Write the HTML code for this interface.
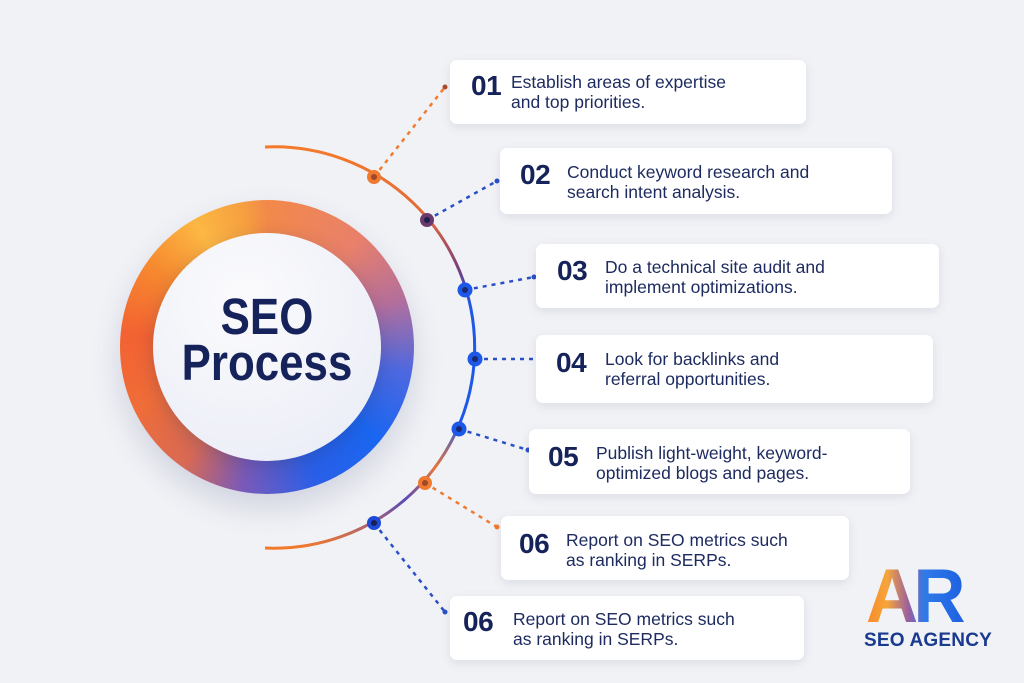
<!DOCTYPE html>
<html><head><meta charset="utf-8"><style>
body{margin:0;width:1024px;height:683px;overflow:hidden;background:#f1f2f6;font-family:"Liberation Sans",sans-serif;position:relative}
.ring{position:absolute;left:120px;top:200px;width:294px;height:294px;border-radius:50%;
background:conic-gradient(from 0deg,#f2894a 0deg,#e9806a 40deg,#b56f9a 70deg,#4e68e0 100deg,#1a66f0 130deg,#2a5fe8 160deg,#7a5ab8 190deg,#d86a55 215deg,#ef6d38 245deg,#f36232 275deg,#f6892f 305deg,#fcb743 330deg,#f6a040 350deg,#f2894a 360deg);
box-shadow:0 14px 30px rgba(60,70,120,.18)}
.inner{position:absolute;left:153px;top:233px;width:228px;height:228px;border-radius:50%;
background:radial-gradient(circle at 40% 30%,#fbfbfd,#eceef7 80%,#e3e6f3);box-shadow:0 6px 18px rgba(40,50,100,.25)}
.title{position:absolute;left:153px;top:294px;width:228px;text-align:center;color:#16235a;font-weight:bold;font-size:51px;line-height:46px;transform:scaleX(0.86)}
.card{position:absolute;background:#fff;border-radius:7px;box-shadow:0 3px 10px rgba(60,70,110,.12)}
.num{position:absolute;font-weight:bold;font-size:28px;color:#16235a;letter-spacing:-0.5px}
.txt{position:absolute;font-size:17.5px;line-height:19.5px;color:#1e2b60}
.logo{position:absolute;left:866px;top:558px;padding-right:12px;font-weight:bold;font-size:76px;letter-spacing:-5px;transform:scaleX(0.95);transform-origin:left;
background:linear-gradient(90deg,#f98a2a 0%,#f5a53a 20%,#9a5fa0 40%,#2f7ae8 55%,#1b5be0 100%);-webkit-background-clip:text;background-clip:text;color:transparent;line-height:78px}
.agency{position:absolute;left:864px;top:630px;font-weight:bold;font-size:19px;color:#1a3a90;letter-spacing:.2px}
</style></head><body>
<svg width="1024" height="683" style="position:absolute;left:0;top:0">
<defs><linearGradient id="ag" x1="0" y1="147" x2="0" y2="548" gradientUnits="userSpaceOnUse">
<stop offset="0" stop-color="#f47a2a"/><stop offset="0.18" stop-color="#e2683a"/><stop offset="0.3" stop-color="#7a3f7a"/><stop offset="0.4" stop-color="#1d58e8"/><stop offset="0.68" stop-color="#1d58e8"/><stop offset="0.8" stop-color="#e7743a"/><stop offset="0.88" stop-color="#5a4ab8"/><stop offset="1" stop-color="#f47a2a"/></linearGradient></defs>
<path d="M265 147 A200.7 200.7 0 1 1 265 548" fill="none" stroke="url(#ag)" stroke-width="3"/>
<g stroke-width="2.5" stroke-dasharray="4 5" fill="none">
<line x1="374" y1="177" x2="445" y2="87" stroke="#f07a30"/>
<line x1="427" y1="220" x2="497" y2="181" stroke="#2a4fc8"/>
<line x1="465" y1="290" x2="534" y2="277" stroke="#2a4fc8"/>
<line x1="475" y1="359" x2="534" y2="359" stroke="#2a4fc8"/>
<line x1="459" y1="429" x2="528" y2="450" stroke="#2a4fc8"/>
<line x1="425" y1="483" x2="497" y2="527" stroke="#f07a30"/>
<line x1="374" y1="523" x2="445" y2="612" stroke="#2a4fc8"/>
</g>
<g>
<circle cx="374" cy="177" r="7" fill="#f07a30"/><circle cx="374" cy="177" r="3" fill="#a0482a"/>
<circle cx="427" cy="220" r="7" fill="#6a3a6a"/><circle cx="427" cy="220" r="3" fill="#1a2050"/>
<circle cx="465" cy="290" r="7.5" fill="#1d58e8"/><circle cx="465" cy="290" r="3" fill="#1a2a70"/>
<circle cx="475" cy="359" r="7.5" fill="#1d58e8"/><circle cx="475" cy="359" r="3" fill="#1a2a70"/>
<circle cx="459" cy="429" r="7.5" fill="#1d58e8"/><circle cx="459" cy="429" r="3" fill="#1a2a70"/>
<circle cx="425" cy="483" r="7" fill="#f07a30"/><circle cx="425" cy="483" r="3" fill="#a0482a"/>
<circle cx="374" cy="523" r="7" fill="#1d4ad8"/><circle cx="374" cy="523" r="3" fill="#1a2050"/>
<circle cx="445" cy="87" r="2.5" fill="#b04a2a"/><circle cx="497" cy="181" r="2.5" fill="#2a4fc8"/>
<circle cx="534" cy="277" r="2.5" fill="#2a4fc8"/><circle cx="528" cy="450" r="2.5" fill="#2a4fc8"/>
<circle cx="497" cy="527" r="2.5" fill="#f07a30"/><circle cx="445" cy="612" r="2.5" fill="#2a4fc8"/>
</g></svg>
<div class="ring"></div><div class="inner"></div>
<div class="title">SEO<br>Process</div>

<div class="card" style="left:450px;top:60px;width:356px;height:64px"></div>
<div class="num" style="left:471px;top:70px">01</div>
<div class="txt" style="left:511px;top:73px">Establish areas of expertise<br>and top priorities.</div>

<div class="card" style="left:500px;top:148px;width:392px;height:66px"></div>
<div class="num" style="left:520px;top:159px">02</div>
<div class="txt" style="left:567px;top:163px">Conduct keyword research and<br>search intent analysis.</div>

<div class="card" style="left:536px;top:244px;width:403px;height:64px"></div>
<div class="num" style="left:557px;top:255px">03</div>
<div class="txt" style="left:605px;top:258px">Do a technical site audit and<br>implement optimizations.</div>

<div class="card" style="left:536px;top:335px;width:397px;height:68px"></div>
<div class="num" style="left:556px;top:347px">04</div>
<div class="txt" style="left:605px;top:350px">Look for backlinks and<br>referral opportunities.</div>

<div class="card" style="left:529px;top:429px;width:381px;height:65px"></div>
<div class="num" style="left:548px;top:441px">05</div>
<div class="txt" style="left:596px;top:444px">Publish light-weight, keyword-<br>optimized blogs and pages.</div>

<div class="card" style="left:501px;top:516px;width:348px;height:64px"></div>
<div class="num" style="left:519px;top:528px">06</div>
<div class="txt" style="left:566px;top:531px">Report on SEO metrics such<br>as ranking in SERPs.</div>

<div class="card" style="left:450px;top:596px;width:354px;height:64px"></div>
<div class="num" style="left:463px;top:606px">06</div>
<div class="txt" style="left:513px;top:610px">Report on SEO metrics such<br>as ranking in SERPs.</div>

<div class="logo">AR</div>
<div class="agency">SEO AGENCY</div>
</body></html>
